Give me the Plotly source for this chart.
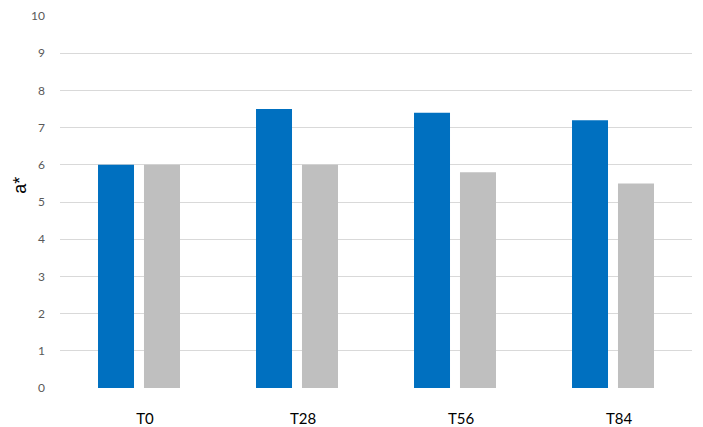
import plotly.graph_objects as go

# données
categories = ["T0", "T28", "T56", "T84"]
serie_bleue = [6.0, 7.5, 7.4, 7.2]
serie_grise = [6.0, 6.0, 5.8, 5.5]
y_ticks = list(range(0, 11))

fig = go.Figure()
fig.add_trace(go.Bar(x=categories, y=serie_bleue, marker_color="#0070C0",
                     marker_line_width=0, name="A"))
fig.add_trace(go.Bar(x=categories, y=serie_grise, marker_color="#BFBFBF",
                     marker_line_width=0, name="B"))

# la page ajoute une marge de 8 px autour de la figure
fig.update_layout(
    width=695, height=419,
    margin=dict(l=52, r=11, t=8, b=39),
    paper_bgcolor="white", plot_bgcolor="white",
    barmode="group", bargap=0.418, bargroupgap=0.217,
    showlegend=False,
    font=dict(family="Lato, Open Sans, sans-serif", size=12, color="#595959"),
)
fig.update_xaxes(showgrid=False, showline=False, ticks="", automargin=False,
                 tickfont=dict(color="black", size=15), ticklabelstandoff=20,
                 ticklabelshift=6)
fig.update_yaxes(range=[0, 10], tickvals=y_ticks, showgrid=True,
                 gridcolor="#D9D9D9", gridwidth=1, zeroline=False,
                 showline=False, ticks="", ticklabelstandoff=14, automargin=False,
                 tickfont=dict(size=12, color="#595959"))

fig.add_annotation(text="a*", xref="paper", yref="paper", x=-0.0823, y=0.546,
                   xanchor="left", yanchor="middle", showarrow=False,
                   textangle=-90,
                   font=dict(family="Liberation Sans, Arial, sans-serif",
                             size=18, color="black"))

fig.write_html("out.html")
